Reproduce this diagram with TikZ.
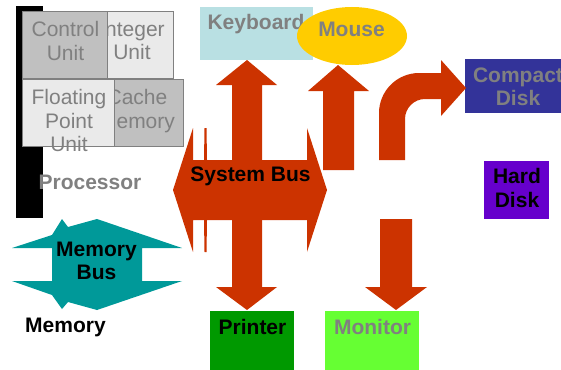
\documentclass[tikz,border=0pt]{standalone}
\usepackage{fontspec}
\setmainfont{Liberation Sans}
\usepackage{tikz}
\usetikzlibrary{shapes.geometric}
\definecolor{BusRed}{RGB}{204,51,0}
\definecolor{BusTeal}{RGB}{0,153,153}
\definecolor{TextGray}{RGB}{128,128,128}
\definecolor{UnitDark}{RGB}{192,192,192}
\definecolor{UnitLight}{RGB}{234,234,234}
\definecolor{KeyBlue}{RGB}{185,224,227}
\definecolor{MouseGold}{RGB}{255,204,0}
\definecolor{CDBlue}{RGB}{51,51,153}
\definecolor{HDPurple}{RGB}{102,0,204}
\definecolor{PrintGreen}{RGB}{0,153,0}
\definecolor{MonLime}{RGB}{102,255,51}

\begin{document}
\begin{tikzpicture}[x=1pt, y=-1pt, font=\fontsize{21}{23.5}\selectfont,
  unitbox/.style={draw=TextGray, line width=1.2pt, anchor=north west, inner sep=0pt},
  unittext/.style={anchor=north, align=center, inner sep=0pt, text=TextGray},
  devbox/.style={anchor=north west, inner sep=0pt},
  devtext/.style={inner sep=0pt, font=\fontsize{21}{23.5}\selectfont\bfseries},
  busshape/.style={fill=BusRed, draw=none}]
\useasboundingbox (0,0) rectangle (561,369);
\clip (0,0) rectangle (561,369);

% processor
\node[devbox, fill=black, minimum width=27pt, minimum height=212pt] (cpubar) at (16,6) {};
\node[unitbox, fill=UnitLight, minimum width=66pt, minimum height=67pt] (intbox) at (107,11) {};
\node[unittext] (inttext) at (132,21.5) {Integer\\Unit};
\node[unitbox, fill=UnitDark, minimum width=69pt, minimum height=67pt] (cachebox) at (114,79) {};
\node[unittext] (cachetext) at (137,89.3) {Cache\\Memory};
\node[unitbox, fill=UnitDark, minimum width=85pt, minimum height=67pt] (ctrlbox) at (22,11) {};
\node[unittext] (ctrltext) at (65.5,21.5) {Control\\Unit};
\node[unitbox, fill=UnitLight, minimum width=92pt, minimum height=67pt] (fpubox) at (22,79) {};
\node[unittext] (fputext) at (69,89.3) {Floating\\Point\\Unit};
\node[devtext, anchor=base, text=TextGray] (cpulabel) at (90,189) {Processor};

% memory
\fill[BusTeal] (12,248) -- (52,235) -- (62,219) -- (68,227) -- (97,219) -- (182,248)
  -- (142,248) -- (142,281) -- (182,281) -- (97,310) -- (68,302) -- (62,309)
  -- (52,295) -- (12,281) -- (52,281) -- (52,248) -- cycle;
\node[devtext, anchor=north, align=center] (membus) at (96.5,241.5) {Memory\\Bus};
\node[devtext, anchor=base] (memlabel) at (65.5,332.5) {Memory};

% system bus
\fill[busshape] (247,60) -- (277,85) -- (262,85) -- (262,287) -- (277,287) -- (247,310)
  -- (216,287) -- (232,287) -- (232,85) -- (216,85) -- cycle;
\fill[busshape] (173,190) -- (193,128) -- (193,160) -- (307,160) -- (307,128) -- (327,190)
  -- (307,252) -- (307,220) -- (193,220) -- (193,252) -- cycle;
\fill[busshape] (204.5,128) -- (206.5,128) -- (207,160) -- (204,160) -- cycle;
\fill[busshape] (204,220) -- (207,220) -- (206.5,252) -- (204.5,252) -- cycle;
\node[devtext, anchor=base] (sysbus) at (250.5,181) {System Bus};

% devices
\node[devbox, fill=KeyBlue, minimum width=113pt, minimum height=53pt] (keybox) at (200,7) {};
\node[devtext, anchor=base, text=TextGray] (keytext) at (256,30) {Keyboard};
\node[ellipse, fill=MouseGold, inner sep=0pt, minimum width=110pt, minimum height=58pt] (mouse) at (352,36) {};
\node[devtext, anchor=base, text=TextGray] (mousetext) at (351.5,37) {Mouse};
\node[devbox, fill=CDBlue, minimum width=106pt, minimum height=54pt] (cdbox) at (465,59) {};
\node[devtext, anchor=north, align=center, text=TextGray] (cdtext) at (518,67.5) {Compact\\Disk};
\node[devbox, fill=HDPurple, minimum width=65pt, minimum height=58pt] (hdbox) at (484,161) {};
\node[devtext, anchor=north, align=center] (hdtext) at (517,168.5) {Hard\\Disk};
\node[devbox, fill=PrintGreen, minimum width=84pt, minimum height=61pt] (prnbox) at (210,311) {};
\node[devtext, anchor=base] (prntext) at (252.5,334) {Printer};
\node[devbox, fill=MonLime, minimum width=94pt, minimum height=61pt] (monbox) at (325,311) {};
\node[devtext, anchor=base, text=TextGray] (montext) at (372.5,334) {Monitor};

% device arrows
\fill[busshape] (338,65) -- (369,91) -- (354,91) -- (354,170) -- (323,170) -- (323,91) -- (308,91) -- cycle;
\fill[busshape] (379,160) -- (379,113) .. controls (379,91) and (397,73) .. (419,73)
  -- (441,73) -- (441,60) -- (466,88) -- (441,116) -- (441,99) -- (425,99)
  .. controls (414,99) and (405,108) .. (405,119) -- (405,160) -- cycle;
\fill[busshape] (380,219) -- (412,219) -- (412,287) -- (427,287) -- (396,310) -- (365,287) -- (380,287) -- cycle;
\end{tikzpicture}
\end{document}
